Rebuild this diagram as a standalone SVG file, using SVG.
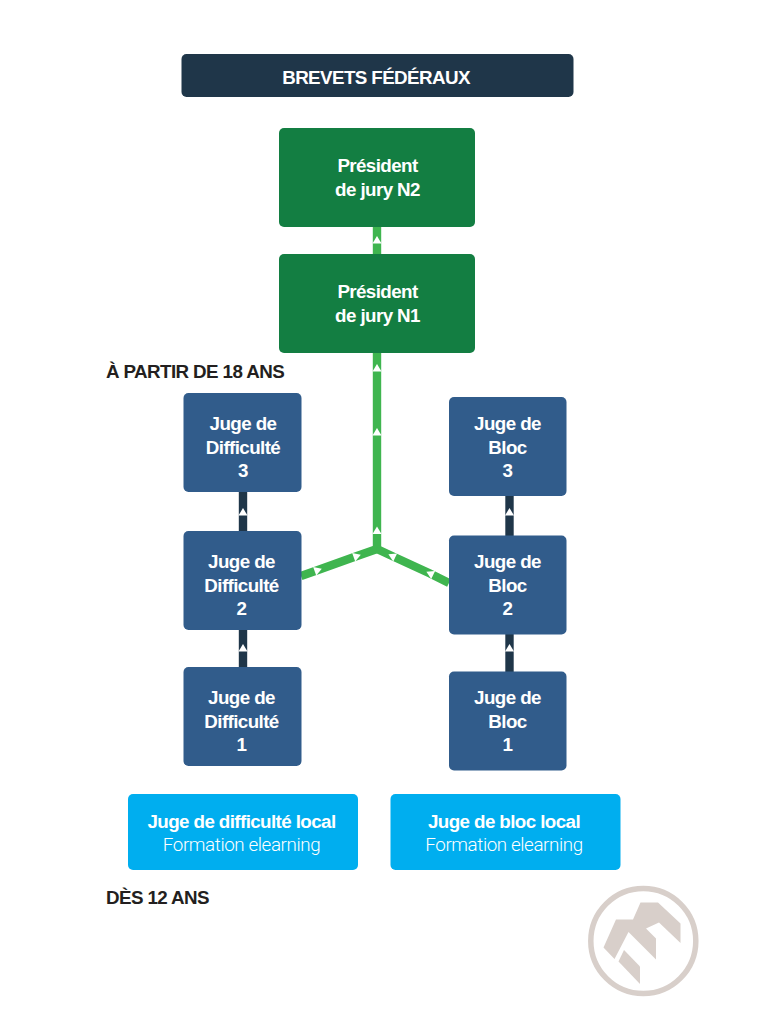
<svg xmlns="http://www.w3.org/2000/svg" width="758" height="1024" viewBox="0 0 758 1024">
<style>
text{font-family:"Liberation Sans",Arial,sans-serif;font-weight:700;font-size:18.800px;letter-spacing:-.6px;fill:#fff;text-anchor:middle}
.h{fill:#231f20;text-anchor:start}
.l{font-family:Roboto,"Liberation Sans",sans-serif;font-weight:300;letter-spacing:-.4px}
.g{fill:#137e42}.b{fill:#315c8b}.c{fill:#00aeef}
.gl,.nl{fill:none;stroke-width:8.400;marker-mid:url(#a)}
.gl{stroke:#3fb54f}.nl{stroke:#1f3649}
</style>
<defs>
<marker id="a" markerUnits="userSpaceOnUse" markerWidth="10" markerHeight="10" refX="4" refY="5" orient="auto"><path d="M0.500 0.500L8 5L0.500 9.500Z" fill="#fff"/></marker>
</defs>
<rect width="758" height="1024" fill="#fff"/>
<g id="connectors">
<path class="gl" d="M377 254V240V227"/>
<path class="gl" d="M377 549V530.500V432V368V352"/>
<path class="gl" d="M301 576L318 570L357 556L377 549"/>
<path class="gl" d="M449 583L430 573.500L392 556L377 549"/>
<path class="nl" d="M243 531V512V492"/>
<path class="nl" d="M243 667V648V630"/>
<path class="nl" d="M509.500 536V512V496"/>
<path class="nl" d="M509.500 672V648V634"/>
</g>
<g id="header"><rect x="181.500" y="54" width="392" height="43" rx="5" fill="#1f3649"/><text x="376" y="83.500">BREVETS FÉDÉRAUX</text></g>
<g id="president-n2"><rect class="g" x="279" y="128" width="196" height="99" rx="5"/><text x="377.500" y="172">Président</text><text x="377.500" y="195.500">de jury N2</text></g>
<g id="president-n1"><rect class="g" x="279" y="254" width="196" height="99" rx="5"/><text x="377.500" y="298">Président</text><text x="377.500" y="321.500">de jury N1</text></g>
<text class="h" id="label-18" x="106" y="378">À PARTIR DE 18 ANS</text>
<g id="difficulte-3"><rect class="b" x="183.500" y="393" width="118" height="99" rx="5"/><text x="243" y="430">Juge de</text><text x="243" y="453.500">Difficulté</text><text x="243" y="477">3</text></g>
<g id="difficulte-2"><rect class="b" x="183.500" y="531" width="118" height="99" rx="5"/><text x="241.500" y="568">Juge de</text><text x="241.500" y="591.500">Difficulté</text><text x="241.500" y="615">2</text></g>
<g id="difficulte-1"><rect class="b" x="183.500" y="667" width="118" height="99" rx="5"/><text x="241.500" y="704">Juge de</text><text x="241.500" y="727.500">Difficulté</text><text x="241.500" y="751">1</text></g>
<g id="bloc-3"><rect class="b" x="449" y="397" width="117.500" height="99" rx="5"/><text x="507.500" y="430">Juge de</text><text x="507.500" y="453.500">Bloc</text><text x="507.500" y="477">3</text></g>
<g id="bloc-2"><rect class="b" x="449" y="535.500" width="117.500" height="99" rx="5"/><text x="507.500" y="568">Juge de</text><text x="507.500" y="591.500">Bloc</text><text x="507.500" y="615">2</text></g>
<g id="bloc-1"><rect class="b" x="449" y="671.500" width="117.500" height="99" rx="5"/><text x="507.500" y="704">Juge de</text><text x="507.500" y="727.500">Bloc</text><text x="507.500" y="751">1</text></g>
<g id="local-difficulte"><rect class="c" x="128" y="794" width="230" height="76" rx="5"/><text x="241.500" y="828">Juge de difficulté local</text><text class="l" x="241.500" y="851">Formation elearning</text></g>
<g id="local-bloc"><rect class="c" x="390.500" y="794" width="230" height="76" rx="5"/><text x="504" y="828">Juge de bloc local</text><text class="l" x="504" y="851">Formation elearning</text></g>
<text class="h" id="label-12" x="106" y="904">DÈS 12 ANS</text>
<g id="logo" fill="#d8cfca"><circle cx="643.300" cy="941" r="52.500" fill="none" stroke="#d8cfca" stroke-width="5.500"/>
<path d="M603.500 947.500L616 919.500H633L640.500 902.500H658L680.500 923.500V943L659 922.500L646 928.500L656 938.500V959.500L628.500 932L614.500 959Z"/>
<path d="M624 950L640 966.500V984L618.500 961.500Z"/></g>
</svg>
